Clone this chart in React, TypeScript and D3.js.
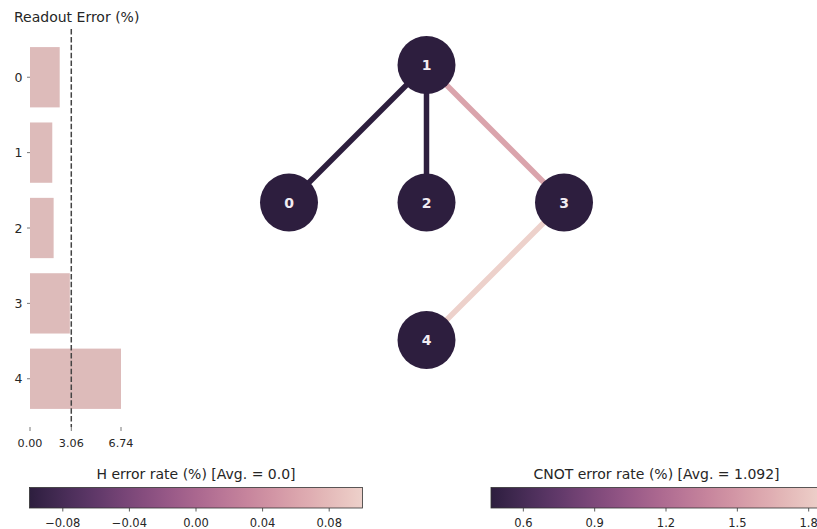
import React from "react";
import * as d3 from "d3";

const qubits = ["0", "1", "2", "3", "4"];
const readoutErrors = [2.2, 1.65, 1.75, 2.95, 6.74];
const nodeCols = [0, 1, 1, 2, 1];
const nodeRows = [1, 0, 1, 1, 2];
const hErrors = [0, 0, 0, 0, 0];
const edgeSources = [1, 1, 1, 3];
const edgeTargets = [0, 2, 3, 4];
const cnotErrors = [0.464, 0.47, 1.578, 1.856];
const hTicks = [-0.08, -0.04, 0.0, 0.04, 0.08];
const cnotTicks = [0.6, 0.9, 1.2, 1.5, 1.8];

function cubehelix(t: number): string {
  const x = 0.15 + 0.7 * t;
  const start = 0, rot = 0.4, hue = 0.8, gamma = 1;
  const xg = Math.pow(x, gamma);
  const a = (hue * xg * (1 - xg)) / 2;
  const phi = 2 * Math.PI * (start / 3 + rot * x);
  const c = (p0: number, p1: number) =>
    Math.max(0, Math.min(1, xg + a * (p0 * Math.cos(phi) + p1 * Math.sin(phi))));
  const r = c(-0.14861, 1.78277);
  const g = c(-0.29227, -0.90649);
  const b = c(1.97294, 0.0);
  return d3.rgb(r * 255, g * 255, b * 255).formatHex();
}

const FONT = "'DejaVu Sans', sans-serif";
const TXT = "#262626";
const TITLE = 14;
const TICK = 11.5;

function Colorbar({ id, x0, x1, domain, ticks, title, fmt }: any) {
  const y0 = 487.5, h = 20.5;
  const sc = d3.scaleLinear().domain(domain).range([x0, x1]);
  const stops = d3.range(0, 33).map((i) => i / 32);
  return (
    <g>
      <defs>
        <linearGradient id={id} x1="0" x2="1" y1="0" y2="0">
          {stops.map((s) => (
            <stop key={s} offset={s} stopColor={cubehelix(s)} />
          ))}
        </linearGradient>
      </defs>
      <text x={(x0 + x1) / 2} y={479} textAnchor="middle" fontSize={TITLE} fontFamily={FONT} fill={TXT}>
        {title}
      </text>
      <rect x={x0} y={y0} width={x1 - x0} height={h} fill={`url(#${id})`} stroke="#333" strokeWidth={0.8} />
      {ticks.map((t: number) => (
        <g key={t}>
          <line x1={sc(t)} x2={sc(t)} y1={y0 + h} y2={y0 + h + 3.5} stroke="#333" strokeWidth={0.8} />
          <text x={sc(t)} y={526.5} textAnchor="middle" fontSize={TICK} fontFamily={FONT} fill={TXT}>
            {fmt(t)}
          </text>
        </g>
      ))}
    </g>
  );
}

export default function App() {
  const W = 817, H = 529;
  const xs = d3.scaleLinear().domain([0, 6.74]).range([30, 121]);
  const ys = d3.scaleLinear().domain([-0.64, 4.64]).range([29, 427]);
  const band = ys(1) - ys(0);
  const avg = d3.mean(readoutErrors) as number;
  const barTicks = [0, Math.round(avg * 100) / 100, d3.max(readoutErrors) as number];

  const gx = d3.scaleLinear().domain([0, 2]).range([289, 564]);
  const gy = d3.scaleLinear().domain([0, 2]).range([65, 340]);
  const hMin = d3.min(hErrors) as number, hMax = d3.max(hErrors) as number;
  const hNorm = (v: number) => (hMax === hMin ? 0 : (v - hMin) / (hMax - hMin));
  const cMin = d3.min(cnotErrors) as number, cMax = d3.max(cnotErrors) as number;
  const cNorm = d3.scaleLinear().domain([cMin, cMax]).range([0, 1]);
  const cAvg = d3.mean(cnotErrors) as number;

  const fmtH = (t: number) => (t < 0 ? "\u2212" + Math.abs(t).toFixed(2) : t.toFixed(2));
  const fmtC = (t: number) => t.toFixed(1);

  return (
    <div style={{ position: "absolute", left: 0, top: 0, width: W, height: H, overflow: "hidden", background: "#fff" }}>
      <svg width={W} height={H} style={{ display: "block" }}>
        <rect width={W} height={H} fill="#fff" />
        <text x={14} y={22} fontSize={TITLE} fontFamily={FONT} fill={TXT}>
          Readout Error (%)
        </text>
        {readoutErrors.map((v, i) => (
          <rect key={i} x={xs(0)} y={ys(i) - band * 0.4} width={xs(v) - xs(0)} height={band * 0.8} fill="#DDBBBA" />
        ))}
        <line x1={xs(avg)} x2={xs(avg)} y1={29} y2={427} stroke="#444" strokeWidth={1.5} strokeDasharray="5.5,2.4" />
        {qubits.map((q, i) => (
          <g key={q}>
            <line x1={27} x2={30} y1={ys(i)} y2={ys(i)} stroke="#555" strokeWidth={0.8} />
            <text x={22.5} y={ys(i) + 4.6} textAnchor="end" fontSize={12.5} fontFamily={FONT} fill={TXT}>
              {q}
            </text>
          </g>
        ))}
        {barTicks.map((t) => (
          <g key={t}>
            <line x1={xs(t)} x2={xs(t)} y1={427} y2={431} stroke="#555" strokeWidth={0.8} />
            <text x={xs(t)} y={446.5} textAnchor="middle" fontSize={11.2} fontFamily={FONT} fill={TXT}>
              {t.toFixed(2)}
            </text>
          </g>
        ))}
        {edgeSources.map((s, i) => (
          <line
            key={i}
            x1={gx(nodeCols[s])}
            y1={gy(nodeRows[s])}
            x2={gx(nodeCols[edgeTargets[i]])}
            y2={gy(nodeRows[edgeTargets[i]])}
            stroke={cubehelix(cNorm(cnotErrors[i]))}
            strokeWidth={5.5}
          />
        ))}
        {qubits.map((q, i) => (
          <g key={q}>
            <circle cx={gx(nodeCols[i])} cy={gy(nodeRows[i])} r={29} fill={cubehelix(hNorm(hErrors[i]))} />
            <text
              x={gx(nodeCols[i])}
              y={gy(nodeRows[i]) + 5}
              textAnchor="middle"
              fontSize={14}
              fontWeight="bold"
              fontFamily={FONT}
              fill="#f2ecf2"
            >
              {q}
            </text>
          </g>
        ))}
        <Colorbar
          id="hgrad"
          x0={29.5}
          x1={362.5}
          domain={[-0.1, 0.1]}
          ticks={hTicks}
          title={`H error rate (%) [Avg. = ${(d3.mean(hErrors) as number).toFixed(1)}]`}
          fmt={fmtH}
        />
        <Colorbar
          id="cgrad"
          x0={491}
          x1={822}
          domain={[cMin, cMax]}
          ticks={cnotTicks}
          title={`CNOT error rate (%) [Avg. = ${cAvg.toFixed(3)}]`}
          fmt={fmtC}
        />
      </svg>
    </div>
  );
}
